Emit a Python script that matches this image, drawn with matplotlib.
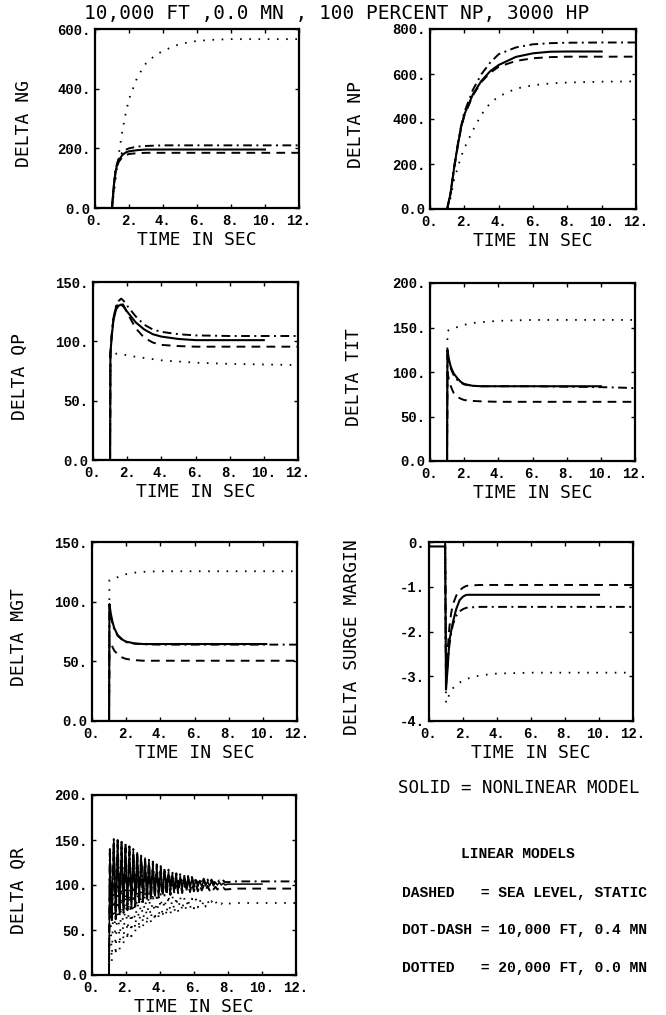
import numpy as np
import matplotlib
matplotlib.use("Agg")
import matplotlib.pyplot as plt

nan = np.nan

# ---------------------------------------------------------------- data ----
TITLE = "10,000 FT ,0.0 MN , 100 PERCENT NP, 3000 HP"
X_TICKS = [0, 2, 4, 6, 8, 10, 12]
X_TICK_LABELS = ["0.", "2.", "4.", "6.", "8.", "10.", "12."]

# Gas generator speed
NG_T = [0, 1.0, 1.1, 1.2, 1.3, 1.4, 1.6, 1.8, 2.0, 2.5, 3.0, 3.5, 4.0, 5.0, 6.0, 7.0, 8.0, 10.0, 12.0]
NG_SOLID = [0, 0, 70, 120, 145, 160, 177, 186, 190, 194, 196, 196, 196, 196, 196, 196, 196, 196, nan]
NG_DASHED = [0, 0, 68, 115, 140, 155, 170, 177, 181, 184, 185, 185, 185, 185, 185, 185, 185, 185, 185]
NG_DASHDOT = [0, 0, 72, 125, 150, 166, 185, 195, 200, 206, 208, 209, 210, 210, 210, 210, 210, 210, 210]
NG_DOTTED = [0, 0, 45, 90, 135, 180, 255, 315, 365, 440, 485, 510, 527, 550, 560, 564, 566, 566, 566]
NG_YTICKS = [0, 200, 400, 600]
NG_YLABELS = ["0.0", "200.", "400.", "600."]

# Power turbine speed
NP_T = [0, 1.0, 1.2, 1.4, 1.6, 1.8, 2.0, 2.5, 3.0, 3.5, 4.0, 5.0, 6.0, 7.0, 8.0, 10.0, 12.0]
NP_SOLID = [0, 0, 70, 180, 275, 360, 420, 510, 570, 612, 640, 676, 692, 699, 700, 700, nan]
NP_DASHED = [0, 0, 70, 178, 272, 355, 415, 505, 565, 605, 632, 658, 670, 675, 677, 677, 677]
NP_DASHDOT = [0, 0, 72, 185, 280, 365, 430, 530, 600, 650, 688, 718, 732, 737, 739, 740, 740]
NP_DOTTED = [0, 0, 50, 130, 180, 230, 270, 350, 420, 470, 500, 535, 550, 558, 562, 566, 567]
NP_YTICKS = [0, 200, 400, 600, 800]
NP_YLABELS = ["0.0", "200.", "400.", "600.", "800."]

# Power turbine torque
QP_T = [0, 1.0, 1.02, 1.1, 1.2, 1.35, 1.5, 1.65, 1.8, 2.0, 2.5, 3.0, 3.5, 4.0, 5.0, 6.0, 8.0, 10.0, 12.0]
QP_SOLID = [0, 0, 90, 105, 118, 127, 130, 131, 129, 125, 116, 110, 106, 104, 102, 101, 101, 101, nan]
QP_DASHED = [0, 0, 90, 106, 120, 129, 132, 133, 130, 124, 111, 103, 99, 97, 96, 95.5, 95.5, 95.5, 95.5]
QP_DASHDOT = [0, 0, 90, 106, 120, 130, 134, 136, 134, 130, 121, 114, 110, 108, 106, 105, 104.5, 104.5, 104.5]
QP_DOTTED = [0, 0, 90, 90, 89.8, 89.6, 89.4, 89.2, 89, 88, 87, 86, 85, 84, 83, 82, 81, 80.5, 80]
QP_YTICKS = [0, 50, 100, 150]
QP_YLABELS = ["0.0", "50.", "100.", "150."]

# Turbine inlet temperature
TIT_T = [0, 1.0, 1.02, 1.1, 1.2, 1.3, 1.4, 1.6, 1.8, 2.0, 2.5, 3.0, 4.0, 6.0, 8.0, 10.0, 12.0]
TIT_SOLID = [0, 0, 125, 115, 107, 102, 98, 93, 89, 86.5, 84.5, 84, 84, 84, 84, 84, nan]
TIT_DASHED = [0, 0, 100, 92, 85, 80, 76, 72, 70, 68.5, 67.5, 67, 66.5, 66.5, 66.5, 66.5, 66.5]
TIT_DASHDOT = [0, 0, 120, 112, 105, 100, 96, 91, 88, 86, 84.5, 84, 84, 84, 83.5, 83, 82]
TIT_DOTTED = [0, 0, 146, 147, 148, 149, 149.5, 150.5, 152, 153, 155, 156, 157.5, 158.5, 158.5, 158.5, 158.5]
TIT_YTICKS = [0, 50, 100, 150, 200]
TIT_YLABELS = ["0.0", "50.", "100.", "150.", "200."]

# Measured gas temperature
MGT_T = [0, 1.0, 1.02, 1.1, 1.2, 1.3, 1.5, 1.8, 2.0, 2.5, 3.0, 4.0, 6.0, 8.0, 10.2, 12.0]
MGT_SOLID = [0, 0, 98, 90, 83, 78, 72, 68, 66.5, 65, 64.5, 64.5, 64.5, 64.5, 64.5, nan]
MGT_DASHED = [0, 0, 68, 66, 62, 59, 56, 53, 52, 51, 50.5, 50.5, 50.5, 50.5, 50.5, 50.5]
MGT_DASHDOT = [0, 0, 95, 88, 81, 77, 71.5, 67.5, 66, 64.8, 64.3, 64, 64, 64, 64, 64]
MGT_DOTTED = [0, 0, 118, 118.5, 119, 119.5, 120.5, 122, 123, 124.3, 125, 125.5, 125.5, 125.5, 125.5, 125.5]
MGT_YTICKS = [0, 50, 100, 150]
MGT_YLABELS = ["0.0", "50.", "100.", "150."]

# Compressor surge margin
SM_T = [0, 0.95, 1.0, 1.1, 1.2, 1.3, 1.4, 1.6, 1.8, 2.0, 2.2, 2.5, 3.0, 4.0, 6.0, 8.0, 10.0, 12.0]
SM_SOLID = [-0.1, -0.1, -3.3, -2.8, -2.2, -2.0, -1.8, -1.5, -1.3, -1.22, -1.18, -1.18, -1.18, -1.18, -1.18, -1.18, -1.18, nan]
SM_DASHED = [0, 0, -3.0, -2.4, -1.9, -1.6, -1.4, -1.2, -1.08, -1.02, -0.98, -0.97, -0.96, -0.96, -0.96, -0.96, -0.96, -0.96]
SM_DASHDOT = [0, 0, -3.2, -2.7, -2.3, -2.05, -1.85, -1.65, -1.55, -1.5, -1.47, -1.46, -1.45, -1.45, -1.45, -1.45, -1.45, -1.45]
SM_DOTTED = [0, 0, -3.6, -3.5, -3.4, -3.33, -3.27, -3.2, -3.14, -3.1, -3.06, -3.03, -2.98, -2.94, -2.92, -2.92, -2.92, -2.92]
SM_YTICKS = [0, -1, -2, -3, -4]
SM_YLABELS = ["0.", "-1.", "-2.", "-3.", "-4."]

# Rotor torque: lightly damped shaft oscillation, listed as successive
# peaks and troughs, followed by the settled tail.
QR_OSC_START = 1.05
QR_HALF_PERIOD = 0.115
QR_SOLID_PEAKS = [139, 150, 149, 147, 145, 142, 139, 136, 133, 130, 127, 124, 121, 119, 117,
                  115, 113, 111, 110, 109, 108, 107, 106, 105, 105, 104, 104, 103, 103, 102]
QR_SOLID_TROUGHS = [62, 66, 70, 73, 76, 78, 80, 82, 84, 86, 87, 89, 90, 91, 92,
                    93, 94, 95, 96, 96, 97, 97, 98, 98, 99, 99, 99, 100, 100, 100]
QR_DASHED_PEAKS = [135, 146, 145, 143, 140, 137, 134, 131, 128, 125, 122, 119, 116, 114, 112,
                   110, 108, 106, 105, 104, 103, 102, 101, 100, 99, 99, 98, 98, 97, 97]
QR_DASHED_TROUGHS = [58, 62, 66, 69, 72, 74, 76, 78, 80, 82, 83, 85, 86, 87, 88,
                     89, 90, 90, 91, 92, 92, 93, 93, 94, 94, 94, 95, 95, 95, 95]
QR_DASHDOT_PEAKS = [140, 151, 150, 148, 146, 143, 140, 137, 134, 131, 128, 126, 123, 121, 119,
                    117, 115, 113, 112, 111, 110, 109, 108, 107, 107, 106, 106, 105, 105, 105]
QR_DASHDOT_TROUGHS = [64, 68, 72, 75, 78, 80, 82, 84, 86, 88, 89, 91, 92, 93, 94,
                      95, 96, 97, 98, 99, 99, 100, 100, 101, 101, 102, 102, 103, 103, 103]
QR_DOTTED_PEAKS = [100, 99, 98, 97, 96, 95, 95, 94, 93, 93, 92, 91, 91, 90, 89,
                   89, 88, 87, 87, 86, 85, 85, 84, 84, 83, 83, 82, 82, 81, 81]
QR_DOTTED_TROUGHS = [15, 22, 28, 34, 39, 43, 47, 50, 53, 56, 58, 60, 62, 64, 66,
                     67, 69, 70, 71, 72, 73, 74, 75, 76, 76, 77, 78, 78, 79, 79]
QR_SOLID_TAIL_T, QR_SOLID_TAIL = [8.0, 10.0], [101, 101]
QR_DASHED_TAIL_T, QR_DASHED_TAIL = [8.5, 12.0], [96, 96]
QR_DASHDOT_TAIL_T, QR_DASHDOT_TAIL = [8.5, 12.0], [104, 104]
QR_DOTTED_TAIL_T, QR_DOTTED_TAIL = [8.5, 12.0], [80, 80]
QR_YTICKS = [0, 50, 100, 150, 200]
QR_YLABELS = ["0.0", "50.", "100.", "150.", "200."]

LEGEND_SOLID = "SOLID = NONLINEAR MODEL"
LEGEND_HEAD = "LINEAR MODELS"
LEGEND_LINES = ["DASHED   = SEA LEVEL, STATIC",
                "DOT-DASH = 10,000 FT, 0.4 MN",
                "DOTTED   = 20,000 FT, 0.0 MN"]

# --------------------------------------------------------------- style ----
W, H = 666, 1015
LABEL_FONT = dict(family="DejaVu Sans Mono", size=13)
TICK_FONT = dict(family="Liberation Mono", weight="bold", size=10)

STYLES = {
    "solid": dict(color="black", lw=1.5, ls="-"),
    "dashed": dict(color="black", lw=1.4, ls=(0, (4.5, 3.2))),
    "dashdot": dict(color="black", lw=1.4, ls=(0, (4.5, 2.3, 1.0, 2.3))),
    "dotted": dict(color="black", lw=1.3, ls=(0, (0.9, 4.2))),
}

fig = plt.figure(figsize=(W / 100, H / 100), dpi=100)


def make_axes(left, top, right, bottom):
    return fig.add_axes([left / W, 1 - bottom / H, (right - left) / W, (bottom - top) / H])


def style_axes(ax, box, ylim, yticks, ylabels, ylabel, label_right_px):
    left, top, right, bottom = box
    ax.set_xlim(0, 12)
    ax.set_ylim(*ylim)
    ax.set_xticks(X_TICKS)
    ax.set_xticklabels(X_TICK_LABELS, fontdict=TICK_FONT)
    ax.set_yticks(yticks)
    ax.set_yticklabels(ylabels, fontdict=TICK_FONT)
    ax.tick_params(direction="in", length=3, width=1, top=True, right=True)
    ax.tick_params(axis="x", pad=4)
    ax.tick_params(axis="y", pad=3)
    for s in ax.spines.values():
        s.set_linewidth(1.6)
    ax.set_xlabel("TIME IN SEC", fontdict=LABEL_FONT)
    ax.xaxis.set_label_coords(0.5, -23.0 / (bottom - top))
    ax.set_ylabel(ylabel, fontdict=LABEL_FONT)
    ax.yaxis.set_label_coords((label_right_px - left) / (right - left), 0.47)


def draw_panel(box, t, series, ylim, yticks, ylabels, ylabel, label_right_px):
    ax = make_axes(*box)
    for key in ("dotted", "dashed", "dashdot", "solid"):
        ax.plot(t, series[key], **STYLES[key])
    style_axes(ax, box, ylim, yticks, ylabels, ylabel, label_right_px)
    return ax


draw_panel((95, 29, 299, 208), NG_T,
           dict(solid=NG_SOLID, dashed=NG_DASHED, dashdot=NG_DASHDOT, dotted=NG_DOTTED),
           (0, 600), NG_YTICKS, NG_YLABELS, "DELTA NG", 33)
draw_panel((430, 29, 636, 209), NP_T,
           dict(solid=NP_SOLID, dashed=NP_DASHED, dashdot=NP_DASHDOT, dotted=NP_DOTTED),
           (0, 800), NP_YTICKS, NP_YLABELS, "DELTA NP", 365)
draw_panel((93, 282, 298, 460), QP_T,
           dict(solid=QP_SOLID, dashed=QP_DASHED, dashdot=QP_DASHDOT, dotted=QP_DOTTED),
           (0, 150), QP_YTICKS, QP_YLABELS, "DELTA QP", 29)
draw_panel((430, 283, 635, 461), TIT_T,
           dict(solid=TIT_SOLID, dashed=TIT_DASHED, dashdot=TIT_DASHDOT, dotted=TIT_DOTTED),
           (0, 200), TIT_YTICKS, TIT_YLABELS, "DELTA TIT", 363)
draw_panel((92, 542, 297, 721), MGT_T,
           dict(solid=MGT_SOLID, dashed=MGT_DASHED, dashdot=MGT_DASHDOT, dotted=MGT_DOTTED),
           (0, 150), MGT_YTICKS, MGT_YLABELS, "DELTA MGT", 28)
draw_panel((429, 542, 633, 721), SM_T,
           dict(solid=SM_SOLID, dashed=SM_DASHED, dashdot=SM_DASHDOT, dotted=SM_DOTTED),
           (-4, 0), SM_YTICKS, SM_YLABELS, "DELTA SURGE MARGIN", 361)


def oscillation(peaks, troughs, tail_t, tail_v):
    swing = np.empty(2 * len(peaks))
    swing[0::2] = peaks
    swing[1::2] = troughs
    ts = QR_OSC_START + QR_HALF_PERIOD * np.arange(swing.size)
    t = np.concatenate([[0.0, 1.0], ts, tail_t])
    v = np.concatenate([[0.0, 0.0], swing, tail_v])
    return t, v


qr_box = (92, 795, 296, 975)
ax_qr = make_axes(*qr_box)
qr_series = {
    "dotted": oscillation(QR_DOTTED_PEAKS, QR_DOTTED_TROUGHS, QR_DOTTED_TAIL_T, QR_DOTTED_TAIL),
    "dashed": oscillation(QR_DASHED_PEAKS, QR_DASHED_TROUGHS, QR_DASHED_TAIL_T, QR_DASHED_TAIL),
    "dashdot": oscillation(QR_DASHDOT_PEAKS, QR_DASHDOT_TROUGHS, QR_DASHDOT_TAIL_T, QR_DASHDOT_TAIL),
    "solid": oscillation(QR_SOLID_PEAKS, QR_SOLID_TROUGHS, QR_SOLID_TAIL_T, QR_SOLID_TAIL),
}
for key, (t, v) in qr_series.items():
    st = dict(STYLES[key])
    if key == "solid":
        st["lw"] = 1.1
    ax_qr.plot(t, v, **st)
style_axes(ax_qr, qr_box, (0, 200), QR_YTICKS, QR_YLABELS, "DELTA QR", 28)

# Title and key
fig.text(337 / W, 1 - 13 / H, TITLE, ha="center", va="center",
         family="DejaVu Sans Mono", size=14)
fig.text(398 / W, 1 - 788 / H, LEGEND_SOLID, ha="left", va="center",
         family="DejaVu Sans Mono", size=12.5)
KEY_FONT = dict(family="Liberation Mono", weight="bold", size=10.5)
fig.text(518 / W, 1 - 854 / H, LEGEND_HEAD, ha="center", va="center", **KEY_FONT)
for line, y in zip(LEGEND_LINES, (893, 930, 968)):
    fig.text(402 / W, 1 - y / H, line, ha="left", va="center", **KEY_FONT)

fig.savefig("out.png", dpi=100)
